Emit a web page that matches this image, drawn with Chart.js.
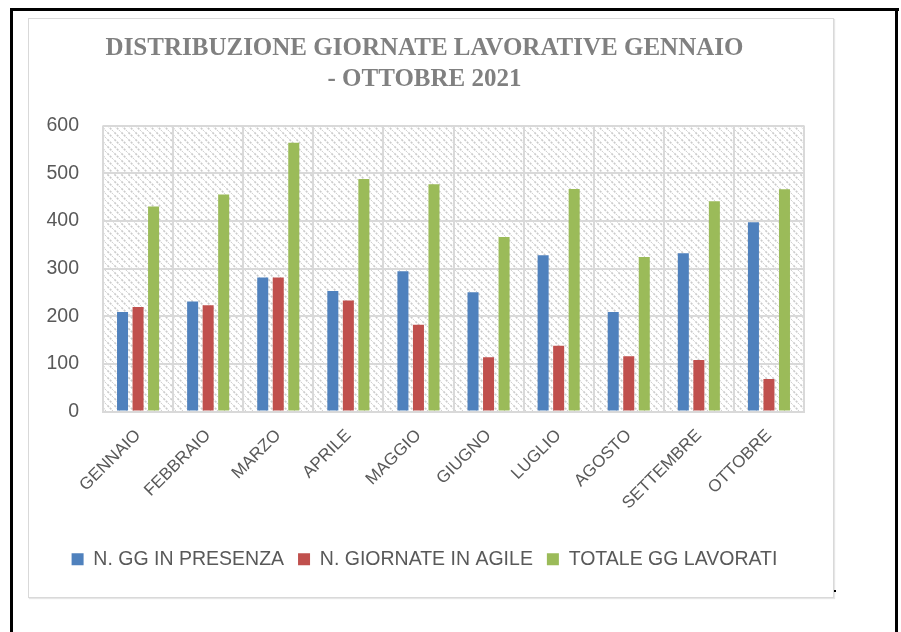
<!DOCTYPE html>
<html>
<head>
<meta charset="utf-8">
<script src="https://cdn.jsdelivr.net/npm/chart.js@4.4.1/dist/chart.umd.min.js"></script>
<style>
  html, body { margin: 0; padding: 0; background: #ffffff; }
  body { width: 901px; height: 632px; position: relative; overflow: hidden; }
  #frameL { position: absolute; left: 10px; top: 8px; width: 3px; height: 624px; background: #000; }
  #frameT { position: absolute; left: 10px; top: 8px; width: 889px; height: 3px; background: #000; }
  #frameR { position: absolute; left: 895px; top: 8px; width: 3px; height: 624px; background: #000; }
  #box { position: absolute; left: 28px; top: 18px; width: 804px; height: 578px;
         border: 1px solid #d9d9d9; box-shadow: 1px 1px 1px #e6e6e6; background: #fff; }
  #dot { position: absolute; left: 834px; top: 590px; width: 2px; height: 2px; background: #000; }
  #wrap { position: absolute; left: 0; top: 0; width: 804px; height: 578px; }
</style>
</head>
<body>
<div id="frameL"></div><div id="frameT"></div><div id="frameR"></div>
<div id="box"><div id="wrap"><canvas id="c"></canvas></div></div>
<div id="dot"></div>
<script>
const categories = ["GENNAIO", "FEBBRAIO", "MARZO", "APRILE", "MAGGIO", "GIUGNO", "LUGLIO", "AGOSTO", "SETTEMBRE", "OTTOBRE"];
const presenza = [209, 231, 281, 253, 294, 250, 328, 209, 332, 397];
const agile    = [219, 223, 281, 233, 182, 114, 138, 116, 108, 68];
const totale   = [430, 455, 564, 488, 477, 366, 467, 324, 441, 466];
const seriesNames = ["N. GG IN PRESENZA", "N. GIORNATE IN AGILE", "TOTALE GG LAVORATI"];
const titleLines = ["DISTRIBUZIONE GIORNATE LAVORATIVE GENNAIO", "- OTTOBRE 2021"];
const yTicks = [0, 100, 200, 300, 400, 500, 600];

function makePattern() {
  const s = 7;
  const p = document.createElement('canvas');
  p.width = s; p.height = s;
  const g = p.getContext('2d');
  g.fillStyle = '#ffffff';
  g.fillRect(0, 0, s, s);
  g.strokeStyle = '#cccccc';
  g.lineWidth = 1.6;
  g.setLineDash([2.2, 1.2]);
  g.beginPath();
  g.moveTo(-1, -1); g.lineTo(s + 1, s + 1);
  g.stroke();
  return g.createPattern(p, 'repeat');
}

const hatchPlugin = {
  id: 'hatch',
  beforeDraw(chart) {
    const a = chart.chartArea;
    const ctx = chart.ctx;
    ctx.save();
    ctx.fillStyle = makePattern();
    ctx.fillRect(a.left, a.top, a.right - a.left, a.bottom - a.top);
    ctx.restore();
  }
};

const ctx = document.getElementById('c');
new Chart(ctx, {
  type: 'bar',
  data: {
    labels: categories,
    datasets: [
      { label: seriesNames[0], data: presenza, backgroundColor: '#4F81BD' },
      { label: seriesNames[1], data: agile, backgroundColor: '#C0504D' },
      { label: seriesNames[2], data: totale, backgroundColor: '#9BBB59' }
    ]
  },
  plugins: [hatchPlugin],
  options: {
    responsive: true,
    maintainAspectRatio: false,
    animation: false,
    categoryPercentage: 0.664,
    barPercentage: 0.71,
    layout: { padding: { left: 16, right: 29, top: 0, bottom: 18 } },
    plugins: {
      title: {
        display: true,
        text: titleLines,
        color: '#808080',
        font: { family: '"Liberation Serif", serif', size: 25, weight: 'bold', lineHeight: 1.25 },
        padding: { top: 14, bottom: 30 }
      },
      legend: {
        position: 'bottom',
        labels: {
          color: '#595959',
          font: { family: '"Liberation Sans", Arial, sans-serif', size: 19.5 },
          boxWidth: 12, boxHeight: 12, padding: 14
        }
      },
      tooltip: { enabled: false }
    },
    scales: {
      x: {
        grid: { color: '#d9d9d9', lineWidth: 2, drawTicks: false, offset: true },
        border: { color: '#d9d9d9', width: 2 },
        ticks: {
          color: '#595959',
          font: { family: '"Liberation Sans", Arial, sans-serif', size: 17 },
          maxRotation: 45, minRotation: 45, padding: 14, autoSkip: false
        },
        afterFit(axis) { axis.height = 124; }
      },
      y: {
        min: 0, max: 600,
        afterBuildTicks(axis) { axis.ticks = yTicks.map(v => ({ value: v })); },
        grid: { color: '#d9d9d9', lineWidth: 2, drawTicks: false },
        border: { display: false },
        ticks: {
          color: '#595959',
          font: { family: '"Liberation Sans", Arial, sans-serif', size: 19.5 },
          padding: 24
        },
        afterFit(axis) { axis.width = 58; }
      }
    }
  }
});
</script>
</body>
</html>
